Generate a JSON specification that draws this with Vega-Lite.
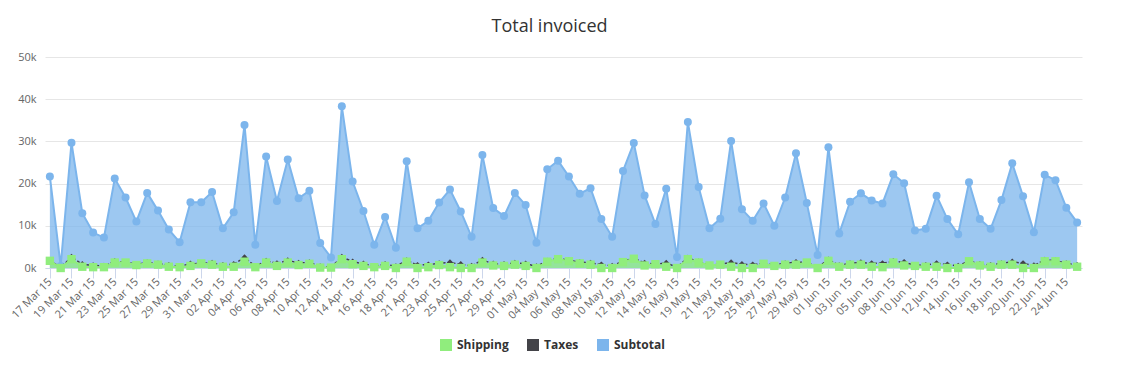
{
  "$schema": "https://vega.github.io/schema/vega-lite/v6.json",
  "width": 1037,
  "height": 211,
  "autosize": {"type": "none"},
  "padding": {"left": 45, "top": 57, "right": 40, "bottom": 100},
  "background": "#ffffff",
  "title": {"text": "Total invoiced", "font": "Open Sans", "fontSize": 18, "fontWeight": "normal", "color": "#333333", "anchor": "middle", "frame": "group", "offset": 15, "dx": -14},
  "data": {"values": [
    {"d": "17 Mar 15", "Subtotal": 21700, "Taxes": 1800, "Shipping": 1700},
    {"d": "18 Mar 15", "Subtotal": 500, "Taxes": 100, "Shipping": 0},
    {"d": "19 Mar 15", "Subtotal": 29700, "Taxes": 2600, "Shipping": 2100},
    {"d": "20 Mar 15", "Subtotal": 13000, "Taxes": 900, "Shipping": 300},
    {"d": "21 Mar 15", "Subtotal": 8400, "Taxes": 600, "Shipping": 200},
    {"d": "22 Mar 15", "Subtotal": 7200, "Taxes": 500, "Shipping": 200},
    {"d": "23 Mar 15", "Subtotal": 21200, "Taxes": 1600, "Shipping": 1300},
    {"d": "24 Mar 15", "Subtotal": 16700, "Taxes": 1400, "Shipping": 1300},
    {"d": "25 Mar 15", "Subtotal": 11000, "Taxes": 900, "Shipping": 700},
    {"d": "26 Mar 15", "Subtotal": 17800, "Taxes": 1300, "Shipping": 1100},
    {"d": "27 Mar 15", "Subtotal": 13600, "Taxes": 1000, "Shipping": 800},
    {"d": "28 Mar 15", "Subtotal": 9100, "Taxes": 700, "Shipping": 300},
    {"d": "29 Mar 15", "Subtotal": 6100, "Taxes": 400, "Shipping": 200},
    {"d": "30 Mar 15", "Subtotal": 15600, "Taxes": 1000, "Shipping": 500},
    {"d": "31 Mar 15", "Subtotal": 15600, "Taxes": 1100, "Shipping": 1100},
    {"d": "01 Apr 15", "Subtotal": 18000, "Taxes": 1200, "Shipping": 800},
    {"d": "02 Apr 15", "Subtotal": 9400, "Taxes": 700, "Shipping": 300},
    {"d": "03 Apr 15", "Subtotal": 13200, "Taxes": 900, "Shipping": 300},
    {"d": "04 Apr 15", "Subtotal": 33900, "Taxes": 2500, "Shipping": 1500},
    {"d": "05 Apr 15", "Subtotal": 5500, "Taxes": 400, "Shipping": 200},
    {"d": "06 Apr 15", "Subtotal": 26400, "Taxes": 1700, "Shipping": 1300},
    {"d": "07 Apr 15", "Subtotal": 15900, "Taxes": 1100, "Shipping": 500},
    {"d": "08 Apr 15", "Subtotal": 25700, "Taxes": 1800, "Shipping": 1300},
    {"d": "09 Apr 15", "Subtotal": 16500, "Taxes": 1200, "Shipping": 700},
    {"d": "10 Apr 15", "Subtotal": 18300, "Taxes": 1300, "Shipping": 1000},
    {"d": "11 Apr 15", "Subtotal": 5900, "Taxes": 400, "Shipping": 100},
    {"d": "12 Apr 15", "Subtotal": 2500, "Taxes": 200, "Shipping": 100},
    {"d": "13 Apr 15", "Subtotal": 38300, "Taxes": 2600, "Shipping": 2100},
    {"d": "14 Apr 15", "Subtotal": 20500, "Taxes": 1500, "Shipping": 900},
    {"d": "15 Apr 15", "Subtotal": 13500, "Taxes": 1000, "Shipping": 500},
    {"d": "16 Apr 15", "Subtotal": 5500, "Taxes": 400, "Shipping": 200},
    {"d": "17 Apr 15", "Subtotal": 12100, "Taxes": 900, "Shipping": 500},
    {"d": "18 Apr 15", "Subtotal": 4800, "Taxes": 400, "Shipping": 0},
    {"d": "20 Apr 15", "Subtotal": 25300, "Taxes": 1800, "Shipping": 1500},
    {"d": "21 Apr 15", "Subtotal": 9400, "Taxes": 700, "Shipping": 0},
    {"d": "22 Apr 15", "Subtotal": 11200, "Taxes": 800, "Shipping": 200},
    {"d": "23 Apr 15", "Subtotal": 15500, "Taxes": 1100, "Shipping": 700},
    {"d": "24 Apr 15", "Subtotal": 18600, "Taxes": 1300, "Shipping": 200},
    {"d": "25 Apr 15", "Subtotal": 13400, "Taxes": 900, "Shipping": 0},
    {"d": "26 Apr 15", "Subtotal": 7400, "Taxes": 500, "Shipping": 0},
    {"d": "27 Apr 15", "Subtotal": 26800, "Taxes": 1900, "Shipping": 1300},
    {"d": "28 Apr 15", "Subtotal": 14200, "Taxes": 1000, "Shipping": 600},
    {"d": "29 Apr 15", "Subtotal": 12300, "Taxes": 900, "Shipping": 500},
    {"d": "30 Apr 15", "Subtotal": 17800, "Taxes": 1200, "Shipping": 800},
    {"d": "01 May 15", "Subtotal": 14900, "Taxes": 1000, "Shipping": 500},
    {"d": "03 May 15", "Subtotal": 6000, "Taxes": 400, "Shipping": 0},
    {"d": "04 May 15", "Subtotal": 23400, "Taxes": 1700, "Shipping": 1500},
    {"d": "05 May 15", "Subtotal": 25400, "Taxes": 2300, "Shipping": 2100},
    {"d": "06 May 15", "Subtotal": 21700, "Taxes": 1800, "Shipping": 1600},
    {"d": "07 May 15", "Subtotal": 17600, "Taxes": 1400, "Shipping": 1100},
    {"d": "08 May 15", "Subtotal": 18900, "Taxes": 1200, "Shipping": 800},
    {"d": "09 May 15", "Subtotal": 11600, "Taxes": 800, "Shipping": 0},
    {"d": "10 May 15", "Subtotal": 7400, "Taxes": 500, "Shipping": 0},
    {"d": "11 May 15", "Subtotal": 23000, "Taxes": 1600, "Shipping": 1400},
    {"d": "12 May 15", "Subtotal": 29600, "Taxes": 2300, "Shipping": 2200},
    {"d": "13 May 15", "Subtotal": 17200, "Taxes": 1200, "Shipping": 600},
    {"d": "14 May 15", "Subtotal": 10400, "Taxes": 900, "Shipping": 900},
    {"d": "15 May 15", "Subtotal": 18800, "Taxes": 1200, "Shipping": 300},
    {"d": "16 May 15", "Subtotal": 2600, "Taxes": 200, "Shipping": 0},
    {"d": "18 May 15", "Subtotal": 34600, "Taxes": 2400, "Shipping": 2100},
    {"d": "19 May 15", "Subtotal": 19200, "Taxes": 1500, "Shipping": 1300},
    {"d": "20 May 15", "Subtotal": 9400, "Taxes": 700, "Shipping": 600},
    {"d": "21 May 15", "Subtotal": 11700, "Taxes": 900, "Shipping": 800},
    {"d": "22 May 15", "Subtotal": 30100, "Taxes": 1300, "Shipping": 300},
    {"d": "23 May 15", "Subtotal": 13900, "Taxes": 900, "Shipping": 0},
    {"d": "24 May 15", "Subtotal": 11200, "Taxes": 800, "Shipping": 0},
    {"d": "25 May 15", "Subtotal": 15300, "Taxes": 1100, "Shipping": 1000},
    {"d": "26 May 15", "Subtotal": 10000, "Taxes": 700, "Shipping": 500},
    {"d": "27 May 15", "Subtotal": 16700, "Taxes": 1100, "Shipping": 800},
    {"d": "28 May 15", "Subtotal": 27200, "Taxes": 1400, "Shipping": 800},
    {"d": "29 May 15", "Subtotal": 15400, "Taxes": 1300, "Shipping": 1300},
    {"d": "31 May 15", "Subtotal": 3100, "Taxes": 200, "Shipping": 0},
    {"d": "01 Jun 15", "Subtotal": 28600, "Taxes": 2000, "Shipping": 1700},
    {"d": "02 Jun 15", "Subtotal": 8200, "Taxes": 600, "Shipping": 300},
    {"d": "03 Jun 15", "Subtotal": 15700, "Taxes": 1100, "Shipping": 800},
    {"d": "04 Jun 15", "Subtotal": 17700, "Taxes": 1300, "Shipping": 800},
    {"d": "05 Jun 15", "Subtotal": 16000, "Taxes": 1100, "Shipping": 300},
    {"d": "07 Jun 15", "Subtotal": 15300, "Taxes": 1100, "Shipping": 200},
    {"d": "08 Jun 15", "Subtotal": 22200, "Taxes": 1600, "Shipping": 1300},
    {"d": "09 Jun 15", "Subtotal": 20100, "Taxes": 1400, "Shipping": 600},
    {"d": "10 Jun 15", "Subtotal": 8900, "Taxes": 600, "Shipping": 500},
    {"d": "11 Jun 15", "Subtotal": 9300, "Taxes": 700, "Shipping": 300},
    {"d": "12 Jun 15", "Subtotal": 17100, "Taxes": 1100, "Shipping": 300},
    {"d": "13 Jun 15", "Subtotal": 11600, "Taxes": 800, "Shipping": 0},
    {"d": "14 Jun 15", "Subtotal": 8000, "Taxes": 500, "Shipping": 0},
    {"d": "15 Jun 15", "Subtotal": 20300, "Taxes": 1700, "Shipping": 1600},
    {"d": "16 Jun 15", "Subtotal": 11600, "Taxes": 900, "Shipping": 600},
    {"d": "17 Jun 15", "Subtotal": 9300, "Taxes": 700, "Shipping": 300},
    {"d": "18 Jun 15", "Subtotal": 16100, "Taxes": 1100, "Shipping": 800},
    {"d": "19 Jun 15", "Subtotal": 24800, "Taxes": 1500, "Shipping": 800},
    {"d": "20 Jun 15", "Subtotal": 17000, "Taxes": 1100, "Shipping": 0},
    {"d": "21 Jun 15", "Subtotal": 8500, "Taxes": 600, "Shipping": 0},
    {"d": "22 Jun 15", "Subtotal": 22100, "Taxes": 1900, "Shipping": 1600},
    {"d": "23 Jun 15", "Subtotal": 20800, "Taxes": 1800, "Shipping": 1600},
    {"d": "24 Jun 15", "Subtotal": 14300, "Taxes": 1100, "Shipping": 800},
    {"d": "25 Jun 15", "Subtotal": 10800, "Taxes": 700, "Shipping": 300}
  ]},
  "transform": [{"fold": ["Subtotal", "Taxes", "Shipping"], "as": ["series", "value"]}],
  "encoding": {
    "x": {
      "field": "d", "type": "ordinal", "sort": null,
      "scale": {"type": "point", "padding": 0.45},
      "axis": {
        "title": null, "grid": false,
        "values": ["17 Mar 15", "19 Mar 15", "21 Mar 15", "23 Mar 15", "25 Mar 15", "27 Mar 15", "29 Mar 15", "31 Mar 15", "02 Apr 15", "04 Apr 15", "06 Apr 15", "08 Apr 15", "10 Apr 15", "12 Apr 15", "14 Apr 15", "16 Apr 15", "18 Apr 15", "21 Apr 15", "23 Apr 15", "25 Apr 15", "27 Apr 15", "29 Apr 15", "01 May 15", "04 May 15", "06 May 15", "08 May 15", "10 May 15", "12 May 15", "14 May 15", "16 May 15", "19 May 15", "21 May 15", "23 May 15", "25 May 15", "27 May 15", "29 May 15", "01 Jun 15", "03 Jun 15", "05 Jun 15", "08 Jun 15", "10 Jun 15", "12 Jun 15", "14 Jun 15", "16 Jun 15", "18 Jun 15", "20 Jun 15", "22 Jun 15", "24 Jun 15"],
        "labelAngle": -45, "labelAlign": "right", "labelBaseline": "middle",
        "labelPadding": 2, "labelFont": "Open Sans", "labelFontSize": 11, "labelColor": "#666666",
        "tickColor": "#ccd6eb", "tickSize": 10, "domainColor": "#ccd6eb", "labelOverlap": false
      }
    },
    "y": {
      "field": "value", "type": "quantitative",
      "scale": {"domain": [0, 50000], "nice": false},
      "axis": {
        "title": null, "values": [0, 10000, 20000, 30000, 40000, 50000],
        "labelExpr": "(datum.value / 1000) + 'k'",
        "domain": false, "ticks": false, "gridColor": "#e6e6e6",
        "labelFont": "Open Sans", "labelFontSize": 11, "labelColor": "#666666", "labelPadding": 9
      }
    },
    "color": {
      "field": "series", "type": "nominal",
      "scale": {"domain": ["Shipping", "Taxes", "Subtotal"], "range": ["#90ed7d", "#434348", "#7cb5ec"]},
      "legend": {
        "title": null, "orient": "none", "legendX": 395, "legendY": 282, "direction": "horizontal",
        "symbolType": "square", "symbolSize": 144, "symbolOpacity": 1, "symbolStrokeWidth": 0,
        "labelFont": "Open Sans", "labelFontSize": 12, "labelFontWeight": "bold", "labelColor": "#333333",
        "labelOffset": 5, "columnPadding": 18
      }
    }
  },
  "layer": [
    {"transform": [{"filter": "datum.series === 'Subtotal'"}], "mark": {"type": "area", "fillOpacity": 0.75, "stroke": null}},
    {"transform": [{"filter": "datum.series === 'Subtotal'"}], "mark": {"type": "line", "strokeWidth": 2}},
    {"transform": [{"filter": "datum.series === 'Subtotal'"}], "mark": {"type": "point", "shape": "circle", "filled": true, "size": 64, "opacity": 1}},
    {"transform": [{"filter": "datum.series === 'Taxes'"}], "mark": {"type": "line", "strokeWidth": 1.5, "strokeDash": [3, 2]}},
    {"transform": [{"filter": "datum.series === 'Taxes'"}], "mark": {"type": "point", "shape": "diamond", "filled": true, "size": 40, "opacity": 1}},
    {"transform": [{"filter": "datum.series === 'Shipping'"}], "mark": {"type": "area", "fillOpacity": 0.75, "stroke": null}},
    {"transform": [{"filter": "datum.series === 'Shipping'"}], "mark": {"type": "line", "strokeWidth": 2}},
    {"transform": [{"filter": "datum.series === 'Shipping'"}], "mark": {"type": "point", "shape": "square", "filled": true, "size": 70, "opacity": 1}}
  ],
  "config": {"view": {"stroke": null}}
}
